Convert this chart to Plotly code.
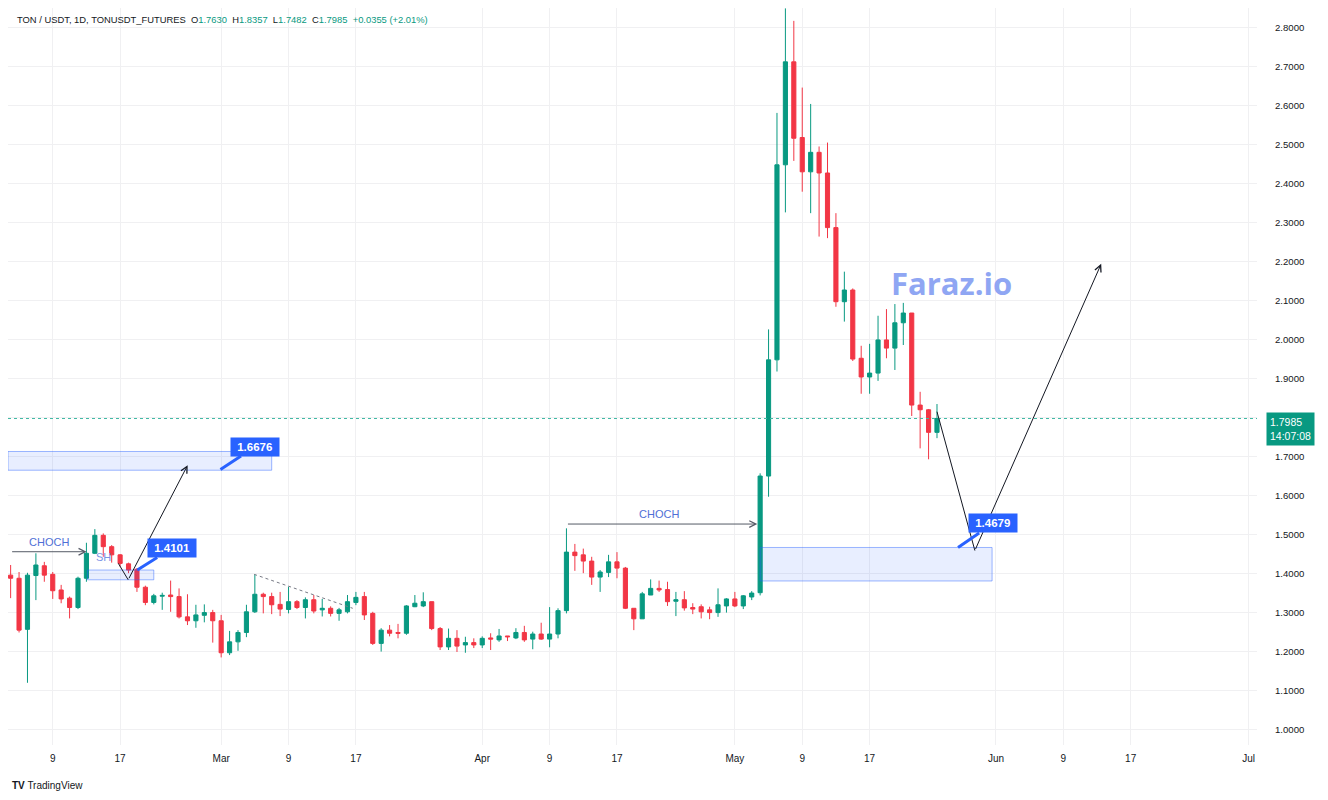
import pandas as pd
import plotly.graph_objects as go

# ---------------- data ----------------
start_date = "2023-02-04"
opens = [1.397,1.389,1.258,1.396,1.421,1.399,1.359,1.338,1.314,1.389,
         1.453,1.499,1.470,1.449,1.426,1.412,1.366,1.327,1.343,1.346,
         1.342,1.290,1.280,1.294,1.301,1.280,1.198,1.226,1.250,1.303,
         1.348,1.342,1.322,1.309,1.329,1.314,1.334,1.308,1.312,1.299,
         1.303,1.327,1.342,1.299,1.222,1.256,1.250,1.248,1.316,1.318,
         1.329,1.260,1.213,1.235,1.218,1.224,1.218,1.236,1.231,1.241,
         1.236,1.250,1.233,1.246,1.233,1.246,1.306,1.456,1.449,1.433,
         1.392,1.404,1.431,1.415,1.312,1.285,1.346,1.363,1.360,1.330,
         1.334,1.314,1.316,1.308,1.301,1.318,1.336,1.318,1.341,1.352,
         1.651,1.949,2.449,2.713,2.519,2.431,2.481,2.428,2.288,2.098,
         2.128,1.953,1.905,1.915,2.000,1.979,2.044,2.069,1.833,1.821,
         1.7630]
highs = [1.423,1.405,1.403,1.453,1.431,1.405,1.372,1.342,1.393,1.480,
         1.515,1.504,1.474,1.451,1.429,1.415,1.370,1.349,1.352,1.383,
         1.363,1.348,1.321,1.322,1.308,1.295,1.254,1.256,1.321,1.399,
         1.352,1.352,1.354,1.367,1.333,1.340,1.346,1.336,1.317,1.313,
         1.346,1.354,1.354,1.303,1.261,1.269,1.272,1.320,1.346,1.353,
         1.329,1.264,1.260,1.256,1.239,1.235,1.240,1.248,1.259,1.241,
         1.261,1.267,1.252,1.275,1.315,1.312,1.517,1.477,1.465,1.444,
         1.410,1.449,1.456,1.418,1.312,1.354,1.386,1.383,1.380,1.354,
         1.356,1.325,1.322,1.316,1.363,1.338,1.354,1.346,1.356,1.658,
         2.027,2.582,2.850,2.818,2.647,2.605,2.496,2.506,2.325,2.175,
         2.132,1.985,1.990,2.062,2.079,2.092,2.095,2.069,1.867,1.823,
         1.8357]
lows = [1.338,1.250,1.121,1.333,1.380,1.336,1.325,1.286,1.310,1.380,
        1.451,1.444,1.429,1.419,1.402,1.354,1.320,1.322,1.308,1.303,
        1.286,1.269,1.262,1.276,1.224,1.186,1.192,1.203,1.238,1.300,
        1.299,1.297,1.292,1.299,1.310,1.286,1.299,1.291,1.291,1.280,
        1.299,1.320,1.282,1.218,1.201,1.240,1.235,1.244,1.315,1.315,
        1.256,1.205,1.205,1.200,1.198,1.210,1.210,1.205,1.226,1.228,
        1.233,1.226,1.207,1.231,1.212,1.235,1.299,1.408,1.402,1.372,
        1.354,1.392,1.389,1.310,1.256,1.285,1.346,1.354,1.318,1.292,
        1.306,1.297,1.286,1.284,1.290,1.301,1.315,1.310,1.333,1.345,
        1.598,1.919,2.327,2.459,2.380,2.325,2.265,2.261,2.085,2.047,
        1.946,1.862,1.862,1.895,1.953,1.923,1.987,1.805,1.722,1.694,
        1.7482]
closes = [1.389,1.256,1.397,1.423,1.397,1.357,1.336,1.314,1.389,1.453,
          1.499,1.470,1.449,1.427,1.410,1.366,1.327,1.344,1.345,1.342,
          1.290,1.280,1.295,1.301,1.280,1.198,1.226,1.250,1.303,1.348,
          1.342,1.321,1.310,1.329,1.314,1.334,1.305,1.312,1.299,1.308,
          1.329,1.340,1.295,1.222,1.256,1.248,1.248,1.318,1.325,1.329,
          1.260,1.213,1.235,1.215,1.224,1.218,1.235,1.233,1.241,1.239,
          1.250,1.231,1.246,1.233,1.246,1.306,1.456,1.447,1.433,1.392,
          1.405,1.431,1.415,1.312,1.285,1.349,1.363,1.359,1.329,1.334,
          1.313,1.310,1.303,1.301,1.321,1.336,1.318,1.344,1.351,1.651,
          1.949,2.449,2.713,2.517,2.431,2.481,2.428,2.288,2.098,2.128,
          1.951,1.905,1.915,2.000,1.979,2.044,2.069,1.833,1.821,1.763,
          1.7985]
dates = pd.date_range(start_date, periods=len(opens), freq="D")

x_tick_dates = ["2023-02-09","2023-02-17","2023-03-01","2023-03-09","2023-03-17",
                "2023-04-01","2023-04-09","2023-04-17","2023-05-01","2023-05-09",
                "2023-05-17","2023-06-01","2023-06-09","2023-06-17","2023-07-01"]
x_tick_text = ["9","17","Mar","9","17","Apr","9","17","May","9","17","Jun","9","17","Jul"]
y_tick_vals = [1.0,1.1,1.2,1.3,1.4,1.5,1.6,1.7,1.8,1.9,2.0,2.1,2.2,2.3,2.4,2.5,2.6,2.7,2.8]
# the 1.8000 label is hidden behind the last-price box in the reference
y_tick_text = ["" if abs(v - 1.8) < 1e-9 else f"{v:.4f}" for v in y_tick_vals]

last_price = 1.7985
header = ("TON / USDT, 1D, TONUSDT_FUTURES  "
          "O<span style='color:#089981'>1.7630</span>  "
          "H<span style='color:#089981'>1.8357</span>  "
          "L<span style='color:#089981'>1.7482</span>  "
          "C<span style='color:#089981'>1.7985</span>  "
          "<span style='color:#089981'>+0.0355 (+2.01%)</span>")

# zones (x0, x1, y0, y1)
zones = [("2023-02-03 16:30", "2023-03-07 00:00", 1.6660, 1.7140),
         ("2023-02-13 03:00", "2023-02-21 00:00", 1.3850, 1.4101),
         ("2023-05-04 00:00", "2023-05-31 13:00", 1.3820, 1.4679)]
# callout labels: (text, anchor date, anchor price, ax px, ay px)
callouts = [("1.6676", "2023-02-28 22:00", 1.6676, 35, -23),
            ("1.4101", "2023-02-19 01:00", 1.4101, 35, -22),
            ("1.4679", "2023-05-27 12:00", 1.4679, 35, -24)]

BLUE = "#2962ff"
GREEN = "#089981"
RED = "#f23645"
INK = "#131722"
GRID = "#f0f0f2"
FONT = "Liberation Sans"

fig = go.Figure()
fig.add_trace(go.Candlestick(
    x=dates, open=opens, high=highs, low=lows, close=closes,
    increasing=dict(line=dict(color=GREEN, width=1), fillcolor=GREEN),
    decreasing=dict(line=dict(color=RED, width=1), fillcolor=RED),
    hoverinfo="skip", showlegend=False,
))

shapes = []
for x0, x1, y0, y1 in zones:
    shapes.append(dict(type="rect", xref="x", yref="y", x0=x0, x1=x1, y0=y0, y1=y1,
                       fillcolor="rgba(41,98,255,0.11)",
                       line=dict(color="rgba(41,98,255,0.45)", width=1), layer="above"))
# last price dotted line
shapes.append(dict(type="line", xref="paper", yref="y", x0=0, x1=1, y0=last_price, y1=last_price,
                   line=dict(color="#3fb8a3", width=1, dash="dot")))
# dotted trend line
shapes.append(dict(type="line", xref="x", yref="y", x0="2023-03-04 22:00", y0=1.399,
                   x1="2023-03-16 15:00", y1=1.312, line=dict(color="#787b86", width=1, dash="dot")))
# first legs of the drawn paths
shapes.append(dict(type="line", xref="x", yref="y", x0="2023-02-16 19:00", y0=1.427,
                   x1="2023-02-17 23:00", y1=1.385, line=dict(color=INK, width=1)))
shapes.append(dict(type="line", xref="x", yref="y", x0="2023-05-25 00:00", y0=1.816,
                   x1="2023-05-29 12:00", y1=1.460, line=dict(color=INK, width=1)))

annotations = []
# arrows (head x,y ; tail x,y in data coords)
arrows = [("2023-02-13 00:30", 1.457, "2023-02-04 00:00", 1.457, "#555a66"),
          ("2023-05-03 16:00", 1.528, "2023-04-11 00:00", 1.528, "#555a66"),
          ("2023-02-25 00:30", 1.679, "2023-02-17 23:00", 1.385, INK),
          ("2023-06-13 12:00", 2.195, "2023-05-29 12:00", 1.460, INK)]
for hx, hy, tx, ty, col in arrows:
    annotations.append(dict(x=hx, y=hy, ax=tx, ay=ty, xref="x", yref="y", axref="x", ayref="y",
                            text="", showarrow=True, arrowhead=5, arrowsize=1.3, arrowwidth=1,
                            arrowcolor=col, standoff=0, startstandoff=0))
for txt, ax_, ay_, ox, oy in callouts:
    annotations.append(dict(x=ax_, y=ay_, xref="x", yref="y", ax=ox, ay=oy,
                            text=f"&nbsp;<b>{txt}</b>&nbsp;", showarrow=True, arrowhead=0,
                            arrowwidth=3, arrowcolor=BLUE, bgcolor=BLUE, borderpad=3,
                            font=dict(color="white", size=11.5, family=FONT)))
# text labels
annotations += [
    dict(x="2023-02-08 12:00", y=1.482, xref="x", yref="y", text="CHOCH", showarrow=False,
         font=dict(color="#4f6fd6", size=11, family=FONT)),
    dict(x="2023-04-22 00:00", y=1.554, xref="x", yref="y", text="CHOCH", showarrow=False,
         font=dict(color="#4f6fd6", size=11, family=FONT)),
    dict(x="2023-02-15 00:00", y=1.444, xref="x", yref="y", text="SH", showarrow=False,
         font=dict(color="#7d95e6", size=11, family=FONT)),
    dict(x="2023-05-26 17:00", y=2.146, xref="x", yref="y", text="<b>Faraz.io</b>", showarrow=False,
         font=dict(color="#8fa6f3", size=31, family="Open Sans")),
    dict(x=0.0056, y=0.985, xref="paper", yref="paper", text=header, showarrow=False,
         xanchor="left", yanchor="middle", font=dict(color=INK, size=9.4, family=FONT)),
    dict(x=1, y=last_price, xref="paper", yref="y", text="1.7985<br>14:07:08", showarrow=False,
         xanchor="left", yanchor="top", xshift=9, yshift=7, align="left", bgcolor=GREEN,
         borderpad=3, font=dict(color="white", size=10.5, family=FONT)),
    dict(x=0.0, y=-0.0556, xref="paper", yref="paper", text="<b>TV</b> TradingView", showarrow=False,
         xanchor="left", yanchor="middle", xshift=2, font=dict(color=INK, size=10, family=FONT)),
]

fig.update_layout(
    width=1320, height=792,
    margin=dict(l=0, r=71, t=0, b=55),
    paper_bgcolor="white", plot_bgcolor="white",
    showlegend=False, hovermode=False,
    shapes=shapes, annotations=annotations,
    boxgap=0.3,
    font=dict(family=FONT, color=INK, size=10),
    xaxis=dict(type="date", range=["2023-02-03 16:30", "2023-07-02 00:00"],
               tickvals=x_tick_dates, ticktext=x_tick_text, showgrid=True, gridcolor=GRID,
               rangeslider=dict(visible=False), zeroline=False, ticks="",
               ticklabelstandoff=6, tickfont=dict(size=10, color=INK)),
    yaxis=dict(side="right", range=[0.9615, 2.851], tickvals=y_tick_vals, ticktext=y_tick_text,
               showgrid=True, gridcolor=GRID, zeroline=False, ticks="",
               ticklabelstandoff=17, tickfont=dict(size=9.6, color=INK)),
)

fig.write_html("out.html")
